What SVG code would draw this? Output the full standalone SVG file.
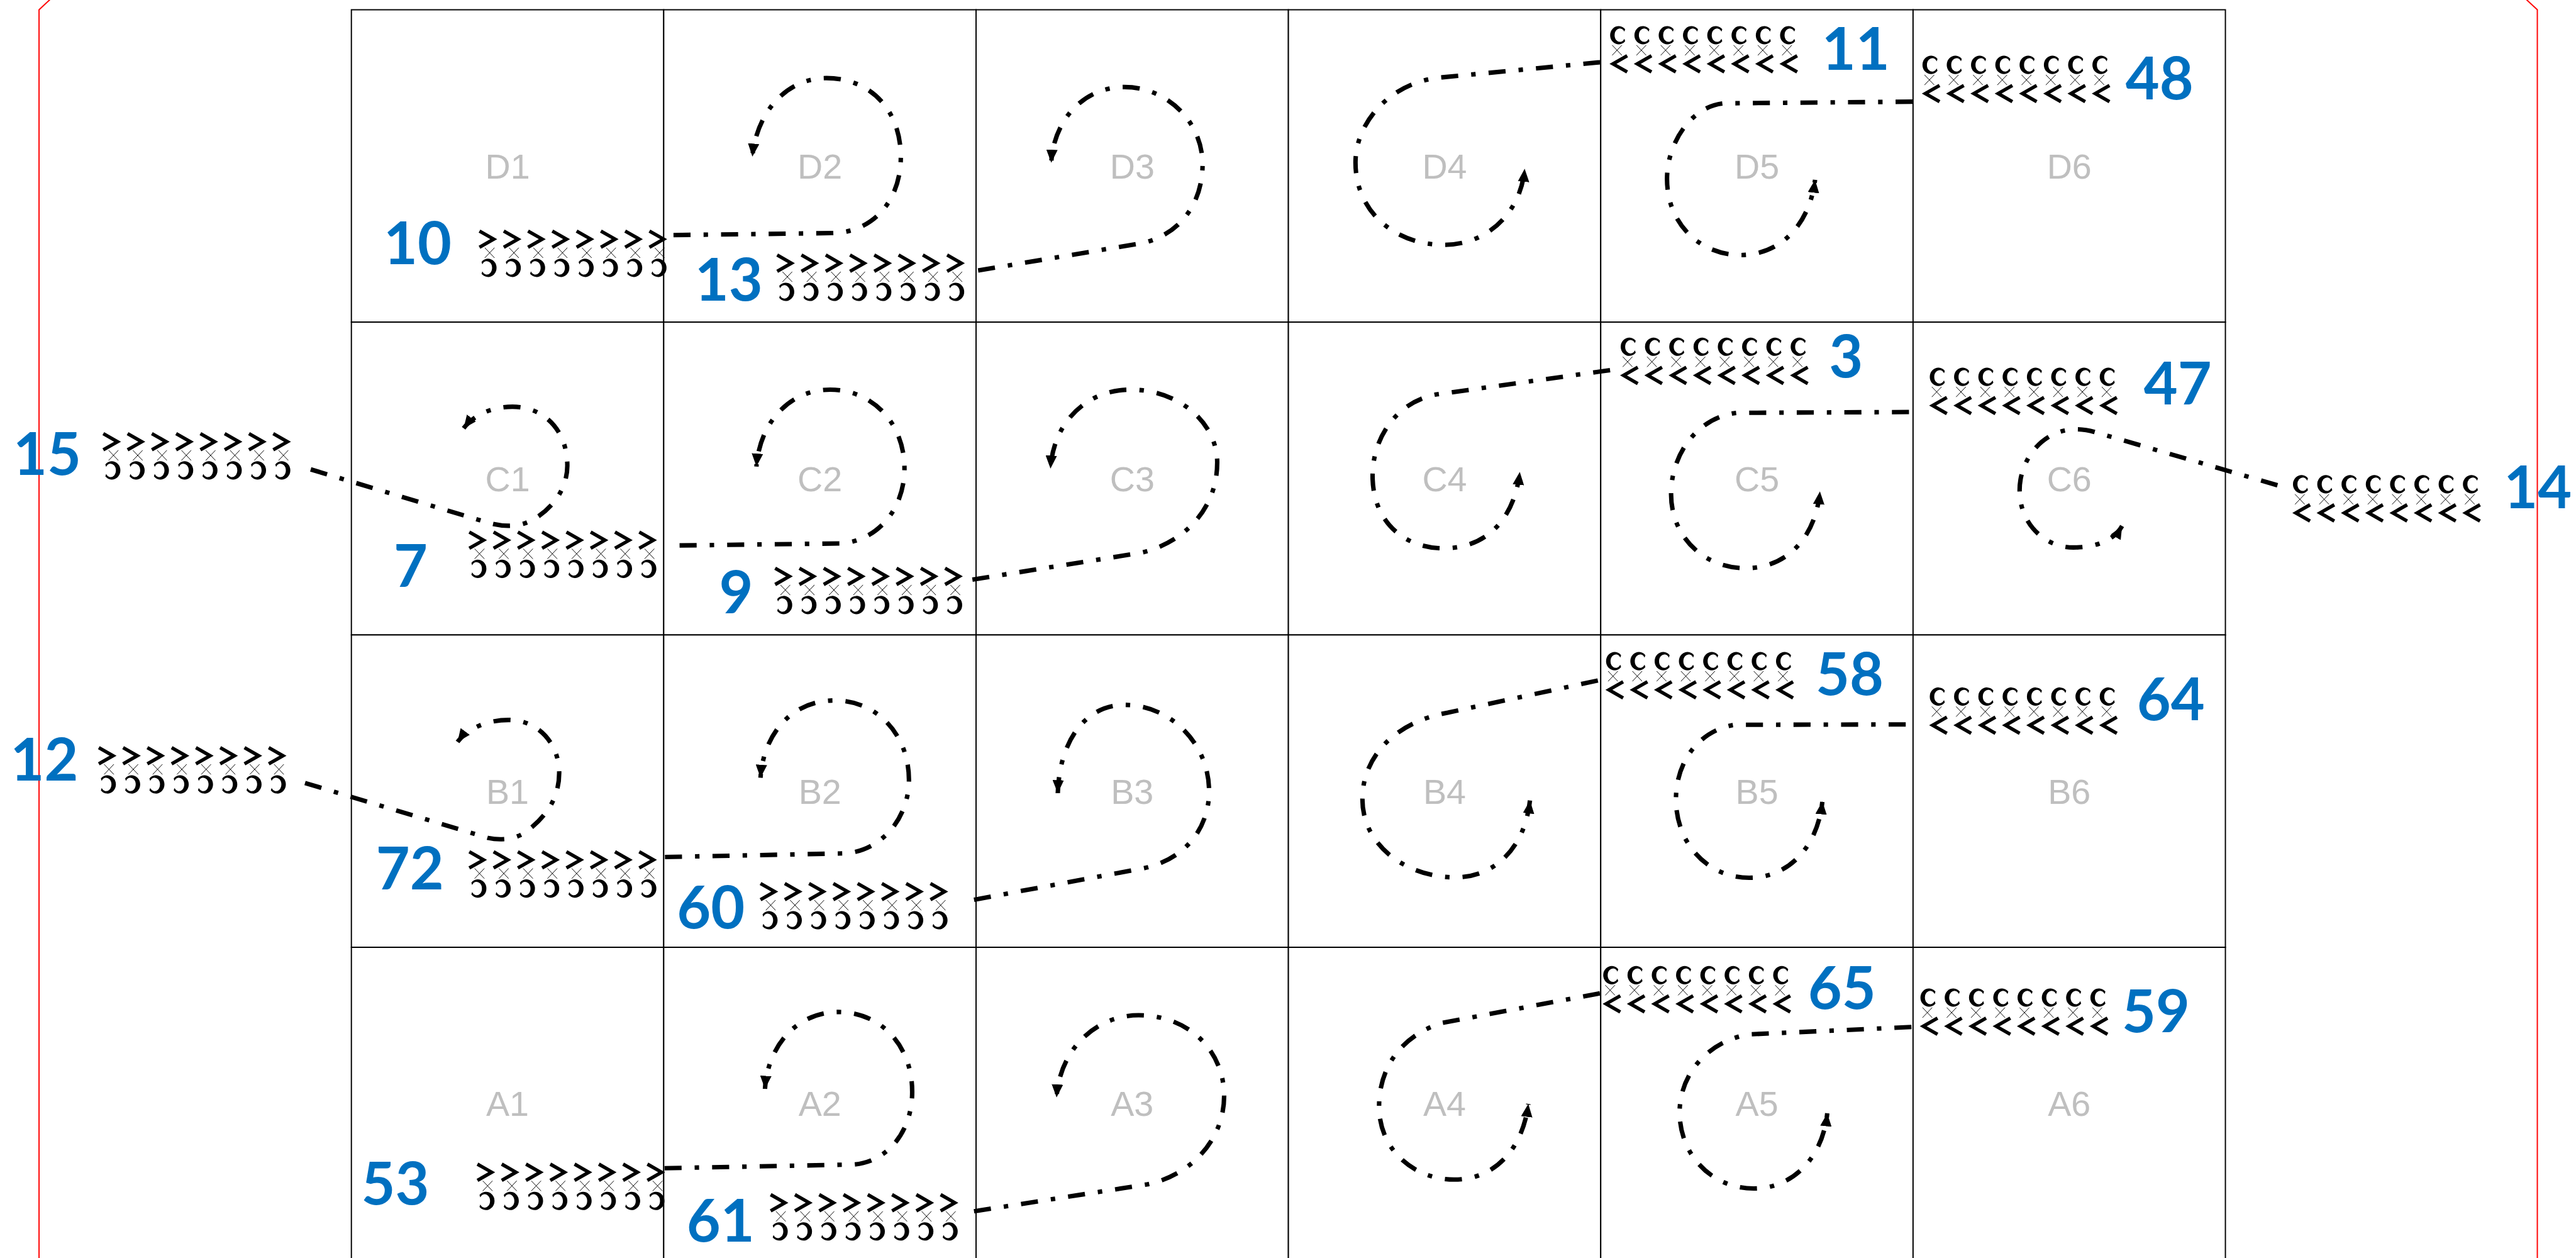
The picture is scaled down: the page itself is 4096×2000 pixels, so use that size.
<svg xmlns="http://www.w3.org/2000/svg" width="4096" height="2000" viewBox="0 0 4096 2000">
<style>
.cell{fill:#fff;stroke:#000;stroke-width:3}
.lbl{font-family:'Liberation Sans',Arial,sans-serif;font-size:86px;fill:#BFBFBF;text-anchor:middle}
.num{font-family:Lato,'Liberation Sans',Arial,sans-serif;font-weight:700;font-size:144px;fill:#0070C0;text-anchor:middle}
.conn{fill:none;stroke:#000;stroke-width:11;stroke-dasharray:42 32 11 32;marker-end:url(#arr)}
.red{fill:none;stroke:#FF0000;stroke-width:3}
</style>
<defs>
<marker id="arr" markerUnits="userSpaceOnUse" markerWidth="32" markerHeight="28" viewBox="0 0 32 28" refX="32" refY="14" orient="auto"><path d="M0,0 L32,14 L0,28 Z" fill="#000"/></marker>
<g id="u">
<path d="M3,3 L38,23 L3,43" fill="none" stroke="#000" stroke-width="8.5"/>
<path d="M16,44 L40,69 M40,44 L16,69" fill="none" stroke="#000" stroke-width="1.5"/>
<path d="M8,78.9 A21,22.5 0 1 1 8,108.1 L10,102.3 A13,16.5 0 1 0 10,84.7 Z" fill="#000"/>
</g>
<g id="rowR">
<use href="#u" x="0"/><use href="#u" x="59.7"/><use href="#u" x="119.4"/><use href="#u" x="179.1"/>
<use href="#u" x="238.8"/><use href="#u" x="298.5"/><use href="#u" x="358.2"/><use href="#u" x="417.9"/>
</g>
</defs>
<rect width="4096" height="2000" fill="#fff"/>
<g transform="scale(0.64666)">
<g id="outline">
<path class="red" d="M140,-17 L96,24 L96,3200"/>
<path class="red" d="M6195,-17 L6239,24 L6239,3200"/>
</g>
<g id="cells">
<g id="D1"><rect class="cell" x="864" y="24" width="768" height="768"/><text class="lbl" x="1248" y="439">D1</text></g>
<g id="D2"><rect class="cell" x="1632" y="24" width="768" height="768"/><text class="lbl" x="2016" y="439">D2</text></g>
<g id="D3"><rect class="cell" x="2400" y="24" width="768" height="768"/><text class="lbl" x="2784" y="439">D3</text></g>
<g id="D4"><rect class="cell" x="3168" y="24" width="768" height="768"/><text class="lbl" x="3552" y="439">D4</text></g>
<g id="D5"><rect class="cell" x="3936" y="24" width="768" height="768"/><text class="lbl" x="4320" y="439">D5</text></g>
<g id="D6"><rect class="cell" x="4704" y="24" width="768" height="768"/><text class="lbl" x="5088" y="439">D6</text></g>
<g id="C1"><rect class="cell" x="864" y="792" width="768" height="769"/><text class="lbl" x="1248" y="1207">C1</text></g>
<g id="C2"><rect class="cell" x="1632" y="792" width="768" height="769"/><text class="lbl" x="2016" y="1207">C2</text></g>
<g id="C3"><rect class="cell" x="2400" y="792" width="768" height="769"/><text class="lbl" x="2784" y="1207">C3</text></g>
<g id="C4"><rect class="cell" x="3168" y="792" width="768" height="769"/><text class="lbl" x="3552" y="1207">C4</text></g>
<g id="C5"><rect class="cell" x="3936" y="792" width="768" height="769"/><text class="lbl" x="4320" y="1207">C5</text></g>
<g id="C6"><rect class="cell" x="4704" y="792" width="768" height="769"/><text class="lbl" x="5088" y="1207">C6</text></g>
<g id="B1"><rect class="cell" x="864" y="1561" width="768" height="768"/><text class="lbl" x="1248" y="1976">B1</text></g>
<g id="B2"><rect class="cell" x="1632" y="1561" width="768" height="768"/><text class="lbl" x="2016" y="1976">B2</text></g>
<g id="B3"><rect class="cell" x="2400" y="1561" width="768" height="768"/><text class="lbl" x="2784" y="1976">B3</text></g>
<g id="B4"><rect class="cell" x="3168" y="1561" width="768" height="768"/><text class="lbl" x="3552" y="1976">B4</text></g>
<g id="B5"><rect class="cell" x="3936" y="1561" width="768" height="768"/><text class="lbl" x="4320" y="1976">B5</text></g>
<g id="B6"><rect class="cell" x="4704" y="1561" width="768" height="768"/><text class="lbl" x="5088" y="1976">B6</text></g>
<g id="A1"><rect class="cell" x="864" y="2329" width="768" height="768"/><text class="lbl" x="1248" y="2744">A1</text></g>
<g id="A2"><rect class="cell" x="1632" y="2329" width="768" height="768"/><text class="lbl" x="2016" y="2744">A2</text></g>
<g id="A3"><rect class="cell" x="2400" y="2329" width="768" height="768"/><text class="lbl" x="2784" y="2744">A3</text></g>
<g id="A4"><rect class="cell" x="3168" y="2329" width="768" height="768"/><text class="lbl" x="3552" y="2744">A4</text></g>
<g id="A5"><rect class="cell" x="3936" y="2329" width="768" height="768"/><text class="lbl" x="4320" y="2744">A5</text></g>
<g id="A6"><rect class="cell" x="4704" y="2329" width="768" height="768"/><text class="lbl" x="5088" y="2744">A6</text></g>
</g>
<g id="connectors">
<path class="conn" d="M1656,578 L2045,573 C2150,572 2215,490 2215,386 C2215,270 2140,192 2032,192 C1930,192 1860,280 1850,385"/>
<path class="conn" d="M2405,665 L2795,600 C2895,585 2957,505 2957,404 C2957,300 2870,214 2765,214 C2660,214 2590,300 2585,400"/>
<path class="conn" d="M3935,153 L3547,190 C3420,200 3333,300 3333,400 C3333,520 3430,602 3550,602 C3660,602 3740,520 3749,415"/>
<path class="conn" d="M4703,250 L4240,254 C4160,260 4099,350 4099,440 C4099,550 4180,627 4280,627 C4380,627 4450,550 4463,442"/>
<path class="conn" d="M764,1154 L1200,1285 C1240,1297 1280,1295 1310,1278 C1360,1250 1395,1200 1395,1145 C1395,1060 1340,1000 1260,1000 C1210,1000 1165,1020 1140,1053"/>
<path class="conn" d="M1671,1341 L2070,1336 C2160,1328 2224,1250 2224,1152 C2224,1040 2145,958 2041,958 C1940,958 1868,1040 1860,1147"/>
<path class="conn" d="M2391,1425 L2800,1360 C2900,1340 2993,1260 2993,1137 C2993,1040 2900,958 2780,958 C2670,958 2590,1040 2583,1152"/>
<path class="conn" d="M3959,910 L3530,970 C3430,990 3375,1080 3375,1170 C3375,1280 3450,1348 3550,1348 C3660,1348 3725,1270 3737,1160"/>
<path class="conn" d="M4694,1013 L4270,1015 C4180,1025 4109,1110 4109,1215 C4109,1320 4190,1397 4292,1397 C4395,1397 4465,1320 4475,1208"/>
<path class="conn" d="M5600,1193 L5150,1062 C5040,1030 4966,1120 4966,1205 C4966,1290 5030,1346 5098,1346 C5160,1346 5200,1325 5218,1293"/>
<path class="conn" d="M750,1925 L1200,2060 C1235,2068 1275,2062 1300,2040 C1345,2005 1375,1960 1375,1900 C1375,1830 1325,1770 1250,1770 C1200,1770 1150,1790 1125,1824"/>
<path class="conn" d="M1635,2107 L2080,2098 C2170,2090 2235,2010 2235,1917 C2235,1810 2160,1722 2052,1722 C1950,1722 1878,1800 1870,1912"/>
<path class="conn" d="M2395,2212 L2810,2135 C2910,2115 2973,2040 2973,1945 C2973,1830 2880,1733 2765,1733 C2670,1733 2605,1820 2601,1950"/>
<path class="conn" d="M3929,1673 L3560,1752 C3430,1775 3350,1860 3350,1965 C3350,2080 3460,2157 3577,2157 C3680,2157 3750,2080 3762,1968"/>
<path class="conn" d="M4686,1781 L4265,1782 C4180,1795 4121,1870 4121,1965 C4121,2075 4200,2158 4301,2158 C4400,2158 4470,2080 4481,1970"/>
<path class="conn" d="M1634,2872 L2100,2863 C2185,2855 2243,2780 2243,2684 C2243,2570 2165,2488 2062,2488 C1960,2488 1888,2570 1881,2677"/>
<path class="conn" d="M2395,2978 L2820,2912 C2930,2890 3010,2800 3010,2695 C3010,2580 2920,2496 2800,2496 C2690,2496 2605,2585 2598,2698"/>
<path class="conn" d="M3934,2442 L3545,2515 C3450,2545 3391,2620 3391,2720 C3391,2830 3480,2900 3575,2900 C3680,2900 3745,2820 3758,2714"/>
<path class="conn" d="M4700,2525 L4300,2543 C4200,2560 4130,2640 4130,2735 C4130,2840 4210,2922 4312,2922 C4410,2922 4482,2845 4493,2737"/>
</g>
<g id="seq10"><use href="#rowR" transform="translate(1176,565)"/><text class="num" x="1027" y="650">10</text></g>
<g id="seq13"><use href="#rowR" transform="translate(1908,624)"/><text class="num" x="1792" y="739">13</text></g>
<g id="seq15"><use href="#rowR" transform="translate(251,1063)"/><text class="num" x="116" y="1167">15</text></g>
<g id="seq7"><use href="#rowR" transform="translate(1151,1305)"/><text class="num" x="1010" y="1443">7</text></g>
<g id="seq9"><use href="#rowR" transform="translate(1903,1394)"/><text class="num" x="1810" y="1508">9</text></g>
<g id="seq12"><use href="#rowR" transform="translate(240,1835)"/><text class="num" x="109" y="1919">12</text></g>
<g id="seq72"><use href="#rowR" transform="translate(1151,2091)"/><text class="num" x="1008" y="2187">72</text></g>
<g id="seq60"><use href="#rowR" transform="translate(1867,2169)"/><text class="num" x="1748" y="2283">60</text></g>
<g id="seq53"><use href="#rowR" transform="translate(1171,2859)"/><text class="num" x="972" y="2962">53</text></g>
<g id="seq61"><use href="#rowR" transform="translate(1892,2934)"/><text class="num" x="1772" y="3052">61</text></g>
<g id="seq11"><use href="#rowR" transform="translate(4422,180) rotate(180)"/><text class="num" x="4563" y="172">11</text></g>
<g id="seq48"><use href="#rowR" transform="translate(5190,253) rotate(180)"/><text class="num" x="5310" y="245">48</text></g>
<g id="seq3"><use href="#rowR" transform="translate(4448,946) rotate(180)"/><text class="num" x="4539" y="928">3</text></g>
<g id="seq47"><use href="#rowR" transform="translate(5208,1020) rotate(180)"/><text class="num" x="5355" y="994">47</text></g>
<g id="seq14"><use href="#rowR" transform="translate(6101,1284) rotate(180)"/><text class="num" x="6240" y="1249">14</text></g>
<g id="seq58"><use href="#rowR" transform="translate(4412,1719) rotate(180)"/><text class="num" x="4548" y="1709">58</text></g>
<g id="seq64"><use href="#rowR" transform="translate(5208,1806) rotate(180)"/><text class="num" x="5338" y="1770">64</text></g>
<g id="seq65"><use href="#rowR" transform="translate(4405,2491) rotate(180)"/><text class="num" x="4529" y="2481">65</text></g>
<g id="seq59"><use href="#rowR" transform="translate(5185,2546) rotate(180)"/><text class="num" x="5301" y="2538">59</text></g>
</g>
</svg>
